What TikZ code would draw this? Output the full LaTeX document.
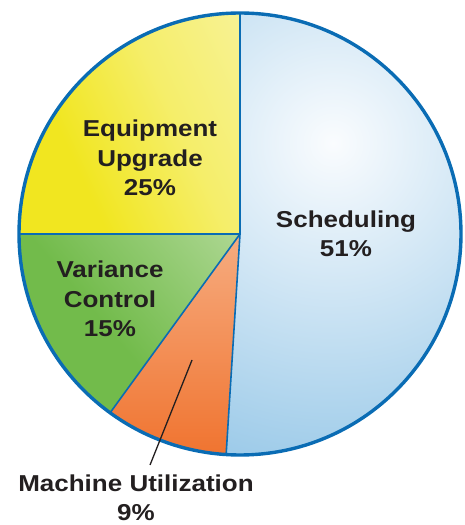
\documentclass[tikz,border=0pt]{standalone}
\usepackage{fontspec}
\setmainfont{Liberation Sans}[FakeStretch=1.13]
\usepackage{xcolor}
\usetikzlibrary{positioning,calc}
\definecolor{rimblue}{HTML}{0A6CB4}
\definecolor{ink}{HTML}{231F20}
\definecolor{equipbright}{HTML}{F1E620}
\definecolor{equipmid}{HTML}{F5EE6A}
\definecolor{equippale}{HTML}{F9F5B2}
\definecolor{vargreen}{HTML}{72BB4B}
\definecolor{varmid}{HTML}{8FC96E}
\definecolor{varpale}{HTML}{C4E1AD}
\definecolor{machpale}{HTML}{F6AC80}
\definecolor{machorange}{HTML}{F07430}
\definecolor{schedwhite}{HTML}{FAFCFE}
\definecolor{schedblue}{HTML}{6CB1DE}
\pgfdeclarehorizontalshading{yellowramp}{100bp}{color(0bp)=(equipbright); color(35bp)=(equipbright); color(60bp)=(equipmid); color(100bp)=(equippale)}
\pgfdeclarehorizontalshading{greenramp}{100bp}{color(0bp)=(vargreen); color(45bp)=(vargreen); color(65bp)=(varmid); color(100bp)=(varpale)}
\tikzset{
  slicelabel/.style={font=\fontsize{23}{29.5}\selectfont\bfseries,text=ink,align=center,inner sep=0pt},
  divider/.style={rimblue,line width=1.6pt},
  rim/.style={rimblue,line width=3.4pt},
  leader/.style={ink,line width=1.3pt}
}

\begin{document}
\begin{tikzpicture}[x=1pt,y=1pt]
      \useasboundingbox (0,0) rectangle (465,525);
      \coordinate (c) at (240,291);
      % slices
      \shade[shading=yellowramp,shading angle=25]
        (c) -- ++(90:221pt) arc (90:180:221pt) -- cycle;
      \shade[shading=greenramp,shading angle=40]
        (c) -- ++(180:221pt) arc (180:234:221pt) -- cycle;
      \shade[top color=machpale,bottom color=machorange]
        (c) -- ++(234:221pt) arc (234:266.4:221pt) -- cycle;
      \begin{scope}
        \clip (c) -- ++(266.4:221pt) arc (266.4:450:221pt) -- cycle;
        \shade[inner color=schedwhite,outer color=schedblue] (333,382) circle (500pt);
      \end{scope}
      \foreach \a in {90,180,234,266.4}
        \draw[divider] (c) -- ++(\a:221pt);
      \draw[rim] (c) circle (221pt);
      % labels
      \node[slicelabel] (equip) at (150,367) {Equipment\\Upgrade\\25\%};
      \node[slicelabel] (sched) at (346,291) {Scheduling\\51\%};
      \node[slicelabel] (var) at (110,226) {Variance\\Control\\15\%};
      \node[slicelabel] (mach) at (136,27) {Machine Utilization\\9\%};
      \coordinate (leadtip) at (192,165);
      \coordinate (leadfoot) at (150,60);
      \draw[leader] (leadtip) -- (leadfoot);
    \end{tikzpicture}
\end{document}
